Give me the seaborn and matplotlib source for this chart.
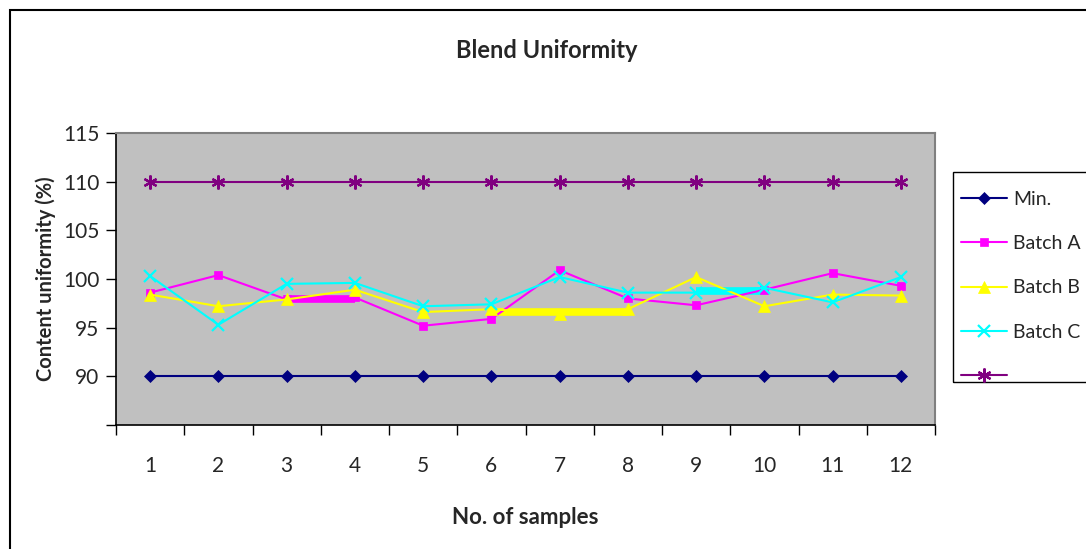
import matplotlib
matplotlib.use("Agg")
import matplotlib.pyplot as plt
from matplotlib.patches import Rectangle
import numpy as np
import pandas as pd
import seaborn as sns

# Sample numbers along the x axis
samples = list(range(1, 13))

# Content uniformity (%) per sample
limit_min = [90] * 12
batch_a = [98.6, 100.4, 97.9, 98.1, 95.2, 95.9, 100.9, 98.0, 97.3, 98.9, 100.6, 99.3]
batch_b = [98.4, 97.2, 97.9, 98.9, 96.6, 96.9, 96.4, 96.9, 100.2, 97.2, 98.4, 98.3]
batch_c = [100.3, 95.3, 99.5, 99.6, 97.2, 97.4, 100.2, 98.6, 98.6, 99.1, 97.6, 100.2]
limit_max = [110] * 12

series_names = ["Min.", "Batch A", "Batch B", "Batch C", " "]
series_values = [limit_min, batch_a, batch_b, batch_c, limit_max]
colors = ["#000080", "#FF00FF", "#FFFF00", "#00FFFF", "#800080"]
markers = ["D", "s", "^", "x", (6, 2, 0)]
marker_sizes = [6, 6, 9, 9, 10]

# Heavy highlight strokes on parts of the batch traces
band_series = ["Batch A", "Batch B", "Batch C"]
band_start = [3, 6, 9]
band_end = [4, 8, 10]
band_level = [97.9, 96.6, 98.8]

y_ticks = [85, 90, 95, 100, 105, 110, 115]
y_tick_labels = ["", "90", "95", "100", "105", "110", "115"]

df = pd.DataFrame({
    "sample": np.tile(samples, len(series_names)),
    "value": np.concatenate(series_values),
    "series": np.repeat(series_names, len(samples)),
})

sns.set_style("white")
plt.rcParams["font.family"] = ["Lato", "DejaVu Sans"]

W, H = 1086, 549
fig = plt.figure(figsize=(W / 100, H / 100), dpi=100)
fig.patch.set_facecolor("white")

# Outer chart frame
fig.patches.append(Rectangle((10 / W, -0.05), 1.2, 1 - 10 / H + 0.05,
                             transform=fig.transFigure, fill=False,
                             edgecolor="black", linewidth=1.5))

# Legend frame
fig.patches.append(Rectangle((953 / W, 1 - 382 / H), 0.2, (382 - 172) / H,
                             transform=fig.transFigure, fill=False,
                             edgecolor="black", linewidth=1.0))

ax = fig.add_axes([116 / W, 1 - 425 / H, 819 / W, 292 / H])
ax.set_facecolor("#C0C0C0")

palette = dict(zip(series_names, colors))

for i, name in enumerate(band_series):
    ax.hlines(band_level[i], band_start[i], band_end[i], colors=palette[name],
              linewidth=5.5, zorder=3)

for name, col, mk, ms in zip(series_names, colors, markers, marker_sizes):
    sub = df[df["series"] == name]
    sns.lineplot(data=sub, x="sample", y="value", ax=ax, color=col,
                 marker=mk, markersize=ms, markeredgecolor=col,
                 markeredgewidth=1.6 if mk in ("x", (6, 2, 0)) else 0.5,
                 linewidth=1.5, label=name, legend=False, zorder=4)

ax.set_xlim(0.5, 12.5)
ax.set_ylim(85, 115)
ax.set_yticks(y_ticks)
ax.set_yticklabels(y_tick_labels)
ax.set_xticks(samples)
ax.set_xticklabels([str(s) for s in samples])
ax.set_xticks(np.arange(0.5, 13, 1), minor=True)
ax.tick_params(axis="x", which="major", length=0, pad=22, labelsize=15)
ax.tick_params(axis="x", which="minor", length=7, width=1, color="black",
               direction="out", bottom=True)
ax.tick_params(axis="y", length=7, width=1, color="black", direction="out",
               left=True, pad=5, labelsize=15)

for s in ["left", "bottom"]:
    ax.spines[s].set_color("black")
    ax.spines[s].set_linewidth(1.2)
for s in ["top", "right"]:
    ax.spines[s].set_color("#808080")
    ax.spines[s].set_linewidth(1.5)

ax.set_xlabel("No. of samples", fontsize=16, fontweight="bold")
ax.set_ylabel("Content uniformity (%)", fontsize=14.5, fontweight="bold")
ax.xaxis.set_label_coords(0.5, -0.28)
ax.yaxis.set_label_coords(-0.073, 0.5)

fig.text(547 / W, 1 - 50 / H, "Blend Uniformity", ha="center",
         va="center", fontsize=17, fontweight="bold")

handles, labels = ax.get_legend_handles_labels()
leg = fig.legend(handles, labels, loc="upper left",
                 bbox_to_anchor=(961 / W, 1 - 191 / H),
                 borderaxespad=0, frameon=False, fontsize=14,
                 handlelength=2.37, labelspacing=1.4, borderpad=0,
                 handletextpad=0.3)

fig.savefig("out.png", dpi=100)
